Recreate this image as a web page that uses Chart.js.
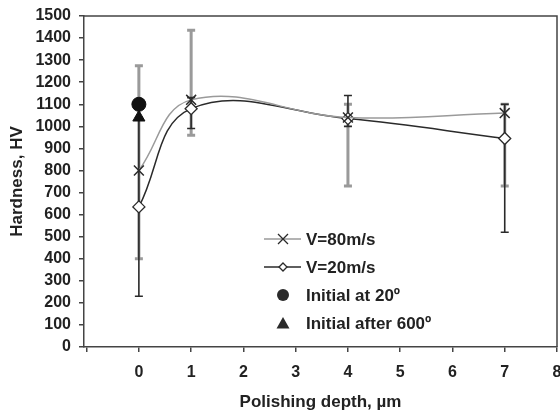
<!DOCTYPE html>
<html><head><meta charset="utf-8">
<script src="https://cdn.jsdelivr.net/npm/chart.js@4/dist/chart.umd.min.js"></script>
<style>html,body{margin:0;padding:0;background:#fff}#wrap{width:560px;height:415px}</style>
</head><body><div id="wrap"><canvas id="c" width="560" height="415"></canvas></div>
<script>
const depths = [0, 1, 4, 7];
const v80 = [800, 1120, 1040, 1060];
const v20 = [635, 1080, 1035, 945];
const v80Low = [400, 960, 730, 730];
const v80High = [1275, 1435, 1100, 1100];
const v20Low = [230, 990, 1000, 520];
const v20High = [1040, 1130, 1140, 1100];
const initial20 = [{x: 0, y: 1100}];
const initial600 = [{x: 0, y: 1040}];
const seriesNames = ['V=80m/s', 'V=20m/s', 'Initial at 20º', 'Initial after 600º'];
const xTicks = [-1, 0, 1, 2, 3, 4, 5, 6, 7, 8];

const FONT = "'Liberation Sans', Arial, sans-serif";
const GRAY = '#9a9a9a', DARK = '#2a2a2a';
Chart.defaults.font.family = FONT;
Chart.defaults.font.size = 16;
Chart.defaults.font.weight = 'bold';
Chart.defaults.color = '#222';

const errBars = {
  id: 'errBars',
  beforeDatasetsDraw(chart) {
    const ctx = chart.ctx, xs = chart.scales.x, ys = chart.scales.y;
    const draw = (lo, hi, color, w) => {
      ctx.save(); ctx.strokeStyle = color; ctx.lineWidth = w;
      depths.forEach((d, i) => {
        const px = xs.getPixelForValue(d), y1 = ys.getPixelForValue(lo[i]), y2 = ys.getPixelForValue(hi[i]);
        ctx.beginPath(); ctx.moveTo(px, y1); ctx.lineTo(px, y2);
        ctx.moveTo(px - 4, y1); ctx.lineTo(px + 4, y1);
        ctx.moveTo(px - 4, y2); ctx.lineTo(px + 4, y2); ctx.stroke();
      });
      ctx.restore();
    };
    draw(v80Low, v80High, GRAY, 3);
    draw(v20Low, v20High, DARK, 1.6);
  },
  afterDraw(chart) {
    const ctx = chart.ctx, a = chart.chartArea;
    ctx.save(); ctx.strokeStyle = '#444'; ctx.lineWidth = 1.5;
    ctx.beginPath(); ctx.moveTo(a.left, a.top); ctx.lineTo(a.right, a.top); ctx.lineTo(a.right, a.bottom); ctx.stroke();
    const lx = 264, ly = 239, dy = 28;
    ctx.font = 'bold 17px ' + FONT; ctx.textBaseline = 'middle';
    for (let i = 0; i < 4; i++) {
      const y = ly + i * dy, mx = 283;
      if (i < 2) {
        ctx.strokeStyle = i === 0 ? GRAY : DARK; ctx.lineWidth = 1.5;
        ctx.beginPath(); ctx.moveTo(lx, y); ctx.lineTo(lx + 37, y); ctx.stroke();
      }
      ctx.strokeStyle = DARK; ctx.fillStyle = DARK; ctx.lineWidth = 1.3;
      if (i === 0) {
        ctx.beginPath(); ctx.moveTo(mx - 5, y - 5); ctx.lineTo(mx + 5, y + 5); ctx.moveTo(mx - 5, y + 5); ctx.lineTo(mx + 5, y - 5); ctx.stroke();
      } else if (i === 1) {
        ctx.fillStyle = '#fff'; ctx.beginPath(); ctx.moveTo(mx, y - 4); ctx.lineTo(mx + 4, y); ctx.lineTo(mx, y + 4); ctx.lineTo(mx - 4, y); ctx.closePath(); ctx.fill(); ctx.stroke();
      } else if (i === 2) {
        ctx.beginPath(); ctx.arc(mx, y, 6, 0, Math.PI * 2); ctx.fill();
      } else {
        ctx.beginPath(); ctx.moveTo(mx, y - 6); ctx.lineTo(mx + 6.5, y + 5.5); ctx.lineTo(mx - 6.5, y + 5.5); ctx.closePath(); ctx.fill();
      }
      ctx.fillStyle = '#222';
      ctx.fillText(seriesNames[i], 306, y + 1);
    }
    ctx.restore();
  }
};

const tickFont = { family: FONT, size: 16, weight: 'bold' };
const titleFont = { family: FONT, size: 17, weight: 'bold' };

new Chart(document.getElementById('c'), {
  type: 'line',
  data: {
    datasets: [
      { label: seriesNames[0], data: depths.map((d, i) => ({x: d, y: v80[i]})), borderColor: GRAY, borderWidth: 1.5,
        tension: 0.4, pointStyle: 'crossRot', pointRadius: 7, pointBorderColor: DARK, pointBorderWidth: 1.5, fill: false },
      { label: seriesNames[1], data: depths.map((d, i) => ({x: d, y: v20[i]})), borderColor: DARK, borderWidth: 1.5,
        tension: 0.4, pointStyle: 'rectRot', pointRadius: 6, pointBackgroundColor: '#fff', pointBorderColor: DARK, pointBorderWidth: 1.3, fill: false },
      { label: seriesNames[2], data: initial20, showLine: false, pointStyle: 'circle', pointRadius: 7, pointBackgroundColor: '#111', pointBorderColor: '#111' },
      { label: seriesNames[3], data: initial600, showLine: false, pointStyle: 'triangle', pointRadius: 7, pointBackgroundColor: '#111', pointBorderColor: '#111' }
    ]
  },
  options: {
    responsive: false, animation: false,
    layout: { autoPadding: false, padding: { left: 0, top: 16, right: 3, bottom: 0 } },
    plugins: { legend: { display: false }, tooltip: { enabled: false } },
    scales: {
      x: {
        type: 'linear', min: -1.05, max: 8,
        afterBuildTicks: s => { s.ticks = xTicks.map(v => ({value: v})); },
        afterFit: s => { s.height = 68; s.paddingLeft = 0; s.paddingRight = 0; },
        ticks: { callback: v => v < 0 ? '' : String(v), color: '#222', font: tickFont, padding: 11, maxRotation: 0, autoSkip: false },
        grid: { drawOnChartArea: false, tickLength: 5, color: '#444', lineWidth: 1.5 },
        border: { color: '#444', width: 1.5 },
        title: { display: true, text: 'Polishing depth, µm', color: '#222', font: titleFont, padding: { top: 2, bottom: 2 } }
      },
      y: {
        min: 0, max: 1500,
        afterFit: s => { s.width = 84; s.paddingTop = 0; s.paddingBottom = 0; },
        ticks: { stepSize: 100, callback: v => String(v), color: '#222', font: tickFont, padding: 8, autoSkip: false },
        grid: { drawOnChartArea: false, tickLength: 5, color: '#444', lineWidth: 1.5 },
        border: { color: '#444', width: 1.5 },
        title: { display: true, text: 'Hardness, HV', color: '#222', font: titleFont, padding: { top: 7, bottom: 0 } }
      }
    }
  },
  plugins: [errBars]
});
</script></body></html>
